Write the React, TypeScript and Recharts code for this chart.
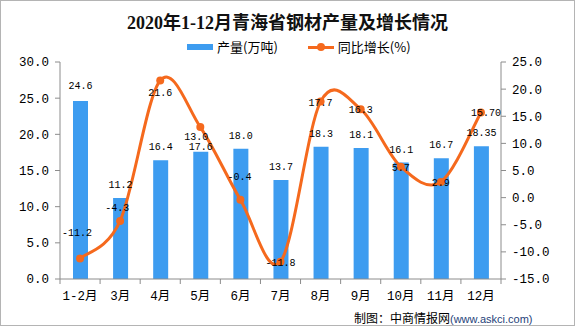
import { ComposedChart, Bar, Line, XAxis, YAxis, LabelList } from 'recharts'

const months = ['1-2月', '3月', '4月', '5月', '6月', '7月', '8月', '9月', '10月', '11月', '12月']
const output = [24.6, 11.2, 16.4, 17.6, 18.0, 13.7, 18.3, 18.1, 16.1, 16.7, 18.35]
const growth = [-11.2, -4.3, 21.6, 13.0, -0.4, -11.8, 17.7, 16.3, 5.7, 2.9, 15.7]
const leftTicks = [0, 5, 10, 15, 20, 25, 30]
const rightTicks = [-15, -10, -5, 0, 5, 10, 15, 20, 25]

const data = months.map((m, i) => ({ month: m, output: output[i], growth: growth[i] }))

// manual nudges of the labels, as in the source chart
const growthLabelShift: Record<number, [number, number]> = {
  0: [-3, -26],
  1: [-3, -14],
  2: [0, 12],
  3: [-4, 9],
  4: [-1, -24],
  10: [5, 0],
}
const barLabelShift: Record<number, number> = { 0: -2, 3: 8 }

const MONO = "'Liberation Mono', 'Noto Sans CJK SC', monospace"
const AXIS = '#8c8c8c'
const BLUE = '#3d9cf0'
const ORANGE = '#f5691d'

// last month carries two decimals in the source
const fmt = (v: number, i: number) => (i === months.length - 1 ? v.toFixed(2) : v.toFixed(1))

// Catmull-Rom style smoothing, close to the spreadsheet's smoothed line
const smooth = (context: any) => {
  let pts: number[][] = []
  return {
    areaStart() {},
    areaEnd() {},
    lineStart() {
      pts = []
    },
    point(x: number, y: number) {
      pts.push([+x, +y])
    },
    lineEnd() {
      if (!pts.length) return
      context.moveTo(pts[0][0], pts[0][1])
      for (let i = 0; i < pts.length - 1; i++) {
        const p0 = pts[Math.max(0, i - 1)]
        const p1 = pts[i]
        const p2 = pts[i + 1]
        const p3 = pts[Math.min(pts.length - 1, i + 2)]
        context.bezierCurveTo(
          p1[0] + (p2[0] - p0[0]) / 6,
          p1[1] + (p2[1] - p0[1]) / 6,
          p2[0] - (p3[0] - p1[0]) / 6,
          p2[1] - (p3[1] - p1[1]) / 6,
          p2[0],
          p2[1]
        )
      }
    },
  }
}

const MonthTick = (props: any) => {
  const { x, y, payload, index, width } = props
  const bw = (width || 441) / months.length
  return (
    <g>
      <line x1={x - bw / 2} y1={y} x2={x - bw / 2} y2={y + 5} stroke={AXIS} />
      <text x={x} y={y + 21} textAnchor="middle" fontSize={12.5} fontFamily={MONO} fill="#000">
        {payload.value}
      </text>
      {index === months.length - 1 && <line x1={x + bw / 2} y1={y} x2={x + bw / 2} y2={y + 5} stroke={AXIS} />}
    </g>
  )
}

const BarLabel = (props: any) => {
  const { x, y, width, index } = props
  return (
    <text
      x={x + width / 2}
      y={y - 10 + (barLabelShift[index] || 0)}
      textAnchor="middle"
      fontSize={10}
      fontFamily={MONO}
      fill="#000"
    >
      {fmt(output[index], index)}
    </text>
  )
}

const GrowthLabel = (props: any) => {
  const { x, y, index } = props
  const [dx, dy] = growthLabelShift[index] || [0, 0]
  return (
    <text x={x + dx} y={y + dy + 4} textAnchor="middle" fontSize={10} fontFamily={MONO} fill="#000">
      {fmt(growth[index], index)}
    </text>
  )
}

export default function App() {
  return (
    <div style={{ position: 'relative', width: 575, height: 326, background: '#fff', overflow: 'hidden' }}>
      <style>{`body{margin:0}`}</style>
      <div
        style={{
          position: 'absolute',
          top: 10,
          left: 0,
          width: 575,
          textAlign: 'center',
          fontFamily: "'Liberation Serif', 'Noto Sans CJK SC', serif",
          fontWeight: 'bold',
          fontSize: 18,
          lineHeight: '26px',
          color: '#111',
        }}
      >
        2020年1-12月青海省钢材产量及增长情况
      </div>
      <div
        style={{
          position: 'absolute',
          top: 38,
          left: 187,
          display: 'flex',
          alignItems: 'center',
          fontFamily: "'Noto Sans CJK SC', sans-serif",
          fontSize: 13,
          lineHeight: '18px',
          color: '#000',
        }}
      >
        <span style={{ width: 26, height: 6, background: BLUE, display: 'inline-block', marginRight: 4 }} />
        <span>产量(万吨)</span>
        <span style={{ position: 'relative', width: 26, height: 18, display: 'inline-block', marginLeft: 30, marginRight: 4 }}>
          <span style={{ position: 'absolute', left: 0, top: 8, width: 26, height: 3, background: ORANGE }} />
          <span style={{ position: 'absolute', left: 9, top: 5, width: 8, height: 8, borderRadius: 4, background: ORANGE }} />
        </span>
        <span>同比增长(%)</span>
      </div>
      <ComposedChart
        width={575}
        height={326}
        data={data}
        margin={{ top: 62, right: 29, bottom: 17, left: 15 }}
        style={{ position: 'absolute', top: 0, left: 0 }}
      >
        <XAxis
          dataKey="month"
          xAxisId="x"
          height={30}
          tickLine={false}
          tickSize={0}
          tickMargin={0}
          axisLine={{ stroke: AXIS }}
          interval={0}
          tick={<MonthTick />}
        />
        <YAxis
          yAxisId="left"
          width={45}
          domain={[0, 30]}
          ticks={leftTicks}
          tickFormatter={(v: number) => v.toFixed(1)}
          tickSize={5}
          tickMargin={6}
          tick={{ fontSize: 12.5, fontFamily: MONO, fill: '#000' }}
          axisLine={{ stroke: AXIS }}
          tickLine={{ stroke: AXIS }}
        />
        <YAxis
          yAxisId="right"
          orientation="right"
          width={45}
          domain={[-15, 25]}
          ticks={rightTicks}
          tickFormatter={(v: number) => v.toFixed(1)}
          tickSize={5}
          tickMargin={6}
          tick={{ fontSize: 12.5, fontFamily: MONO, fill: '#000' }}
          axisLine={{ stroke: AXIS }}
          tickLine={{ stroke: AXIS }}
        />
        <Bar dataKey="output" xAxisId="x" yAxisId="left" fill={BLUE} barSize={15} isAnimationActive={false}>
          <LabelList dataKey="output" content={<BarLabel />} />
        </Bar>
        <Line
          dataKey="growth"
          xAxisId="x"
          yAxisId="right"
          type={smooth as any}
          stroke={ORANGE}
          strokeWidth={3}
          dot={{ r: 4, fill: ORANGE, stroke: ORANGE, strokeWidth: 0 }}
          activeDot={false}
          isAnimationActive={false}
        >
          <LabelList dataKey="growth" content={<GrowthLabel />} />
        </Line>
      </ComposedChart>
      <div
        style={{
          position: 'absolute',
          top: 309,
          left: 354,
          fontSize: 12,
          lineHeight: '18px',
          fontFamily: "'Noto Sans CJK SC', sans-serif",
          color: '#000',
          whiteSpace: 'nowrap',
        }}
      >
        制图：中商情报网
        <span style={{ fontFamily: "'Liberation Sans', sans-serif", fontSize: 11, color: '#1f3f7a' }}>(www.askci.com)</span>
      </div>
      <div
        style={{
          position: 'absolute',
          inset: 0,
          border: '1px solid #b4b4b4',
          pointerEvents: 'none',
        }}
      />
    </div>
  )
}
